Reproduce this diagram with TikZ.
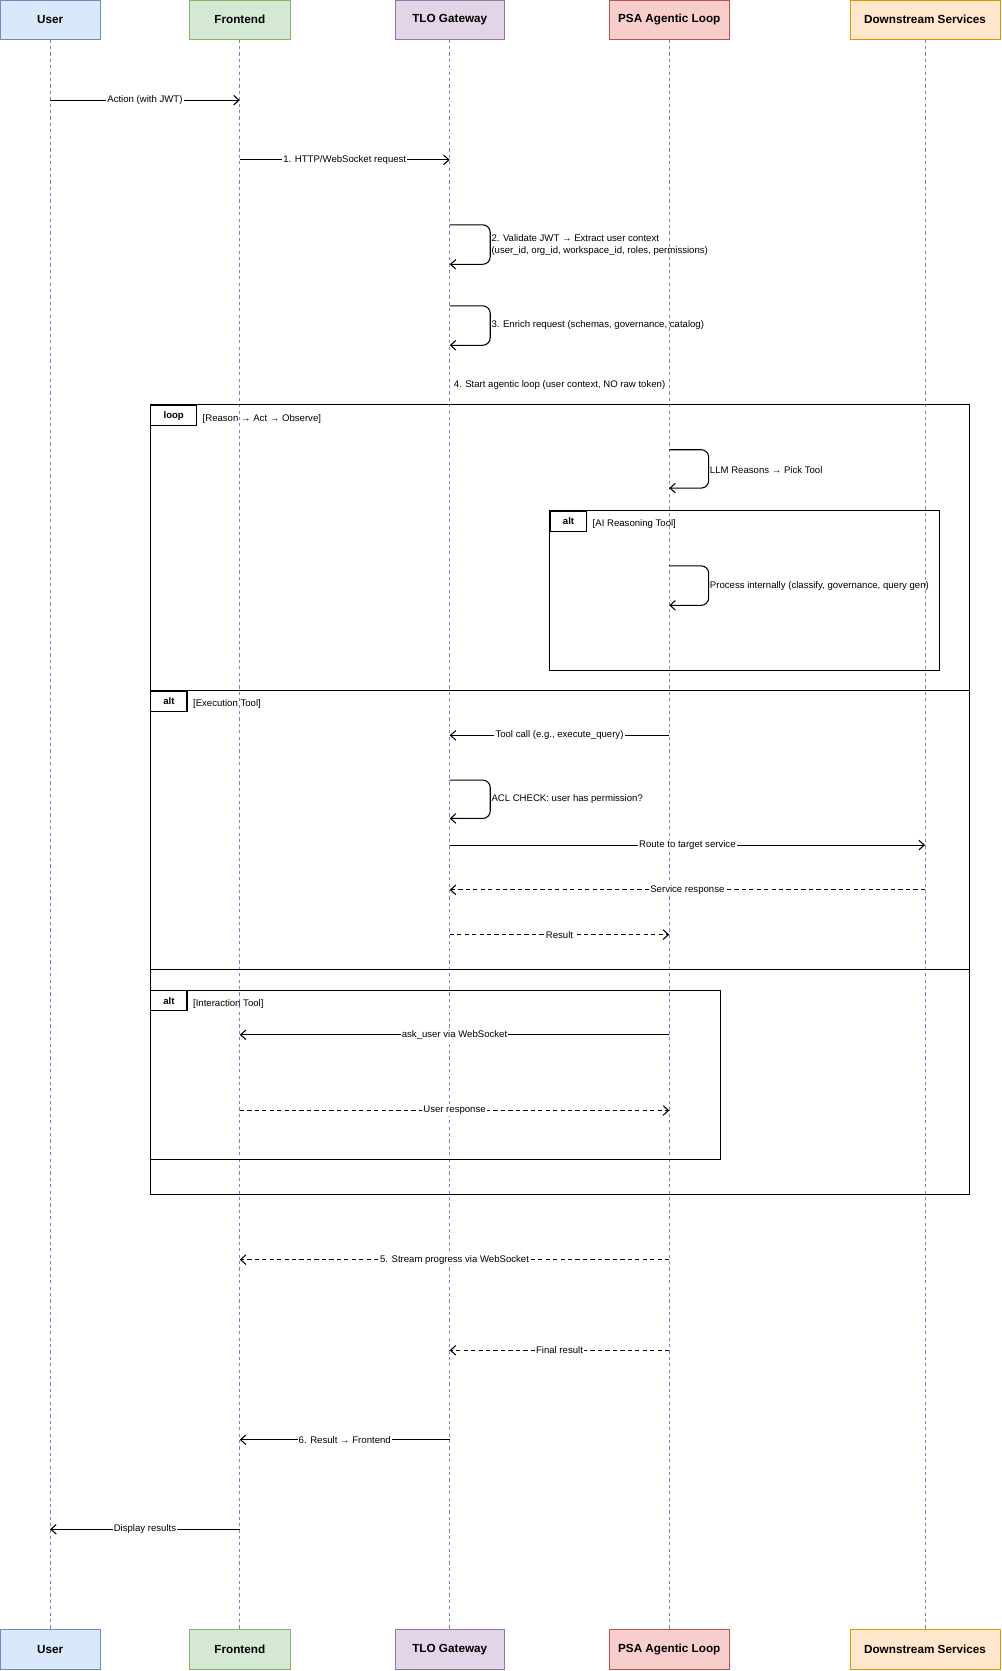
\documentclass[tikz,border=0pt]{standalone}
\usepackage{fontspec}
\setmainfont{Liberation Sans}
\usetikzlibrary{arrows.meta}
\definecolor{bF}{HTML}{DAE8FC}\definecolor{bS}{HTML}{6C8EBF}
\definecolor{gF}{HTML}{D5E8D4}\definecolor{gS}{HTML}{82B366}
\definecolor{pF}{HTML}{E1D5E7}\definecolor{pS}{HTML}{9673A6}
\definecolor{rF}{HTML}{F8CECC}\definecolor{rS}{HTML}{B85450}
\definecolor{oF}{HTML}{FFE6CC}\definecolor{oS}{HTML}{D79B00}
\begin{document}
\begin{tikzpicture}[x=1pt,y=-1pt,
 hd/.style={draw=#1S,fill=#1F,minimum height=37pt,font=\fontsize{11}{13}\selectfont\bfseries,inner sep=0pt},
 life/.style={draw=bS,dash pattern=on 3pt off 3pt,line width=0.6pt},
 msg/.style={-{Straight Barb[length=5pt,width=9pt]},line width=1pt},
 ret/.style={msg,dash pattern=on 4pt off 3pt},
 lbl/.style={fill=white,inner sep=1pt,font=\fontsize{9}{10.5}\selectfont},
 txt/.style={inner sep=1pt,font=\fontsize{9}{10.5}\selectfont,align=left,anchor=west},
 frm/.style={draw,line width=1pt},
 tag/.style={draw,fill=white,line width=1pt,font=\fontsize{9}{10.5}\selectfont\bfseries,anchor=north west,minimum height=19pt,inner sep=0pt}]
\useasboundingbox (0,0) rectangle (940,1568);
% headers
\foreach \n/\c/\x/\w/\t in {U/b/47/94/User,F/g/225/94/Frontend,T/p/422/103/TLO Gateway,P/r/628/113/PSA Agentic Loop,D/o/868/141/Downstream Services}{
 \node[hd=\c,minimum width=\w pt] (\n1) at (\x,18.5) {\t};
 \node[hd=\c,minimum width=\w pt] (\n2) at (\x,1547.5) {\t};
 \draw[life] (\n1.south) -- (\n2.north);
}
% frames
\draw[frm] (141,380) rectangle (910,1121);
\node[tag,minimum width=43pt] (lt) at (141,380) {loop};
\node[txt] (ll) at (189,393) {[Reason → Act → Observe]};
\draw[frm] (516,479) rectangle (882,629);
\node[tag,minimum width=34pt] (a1) at (516,479) {alt};
\node[txt] (a1l) at (555,492) {[AI Reasoning Tool]};
\draw[frm] (141,648) rectangle (910,910);
\node[tag,minimum width=34pt] (a2) at (141,648) {alt};
\node[txt] (a2l) at (180,661) {[Execution Tool]};
\draw[frm] (141,929) rectangle (676,1088);
\node[tag,minimum width=34pt] (a3) at (141,929) {alt};
\node[txt] (a3l) at (180,942) {[Interaction Tool]};
% coordinates
\foreach \n/\x in {U/47,F/225,T/422,P/628,D/868}{
 \foreach \y in {94,150,690,793,835,877,971,1042,1182,1267,1351,1435}{\coordinate (\n\y) at (\x,\y);}}
% messages
\draw[msg] (U94) -- node[lbl]{Action (with JWT)} (F94);
\draw[msg] (F150) -- node[lbl]{1. HTTP/WebSocket request} (T150);
\draw[msg,rounded corners=7pt] (422,211) -- (460,211) -- (460,248) -- (422,248);
\node[txt] (s2) at (460,230) {2. Validate JWT → Extract user context\\(user\_id, org\_id, workspace\_id, roles, permissions)};
\draw[msg,rounded corners=7pt] (422,287) -- (460,287) -- (460,324) -- (422,324);
\node[txt] (s3) at (460,305) {3. Enrich request (schemas, governance, catalog)};
\node[lbl] (s4) at (525,361) {4. Start agentic loop (user context, NO raw token)};
\draw[msg,rounded corners=7pt] (628,422) -- (665,422) -- (665,458) -- (628,458);
\node[txt] (s5) at (665,441) {LLM Reasons → Pick Tool};
\draw[msg,rounded corners=7pt] (628,531) -- (665,531) -- (665,568) -- (628,568);
\node[txt] (s6) at (665,550) {Process internally (classify, governance, query gen)};
\draw[msg] (P690) -- node[lbl]{Tool call (e.g., execute\_query)} (T690);
\draw[msg,rounded corners=7pt] (422,732) -- (460,732) -- (460,768) -- (422,768);
\node[txt] (s7) at (460,750) {ACL CHECK: user has permission?};
\draw[msg] (T793) -- node[lbl]{Route to target service} (D793);
\draw[ret] (D835) -- node[lbl]{Service response} (T835);
\draw[ret] (T877) -- node[lbl]{Result} (P877);
\draw[msg] (P971) -- node[lbl]{ask\_user via WebSocket} (F971);
\draw[ret] (F1042) -- node[lbl]{User response} (P1042);
\draw[ret] (P1182) -- node[lbl]{5. Stream progress via WebSocket} (F1182);
\draw[ret] (P1267) -- node[lbl]{Final result} (T1267);
\draw[msg] (T1351) -- node[lbl]{6. Result → Frontend} (F1351);
\draw[msg] (F1435) -- node[lbl]{Display results} (U1435);
\end{tikzpicture}
\end{document}
